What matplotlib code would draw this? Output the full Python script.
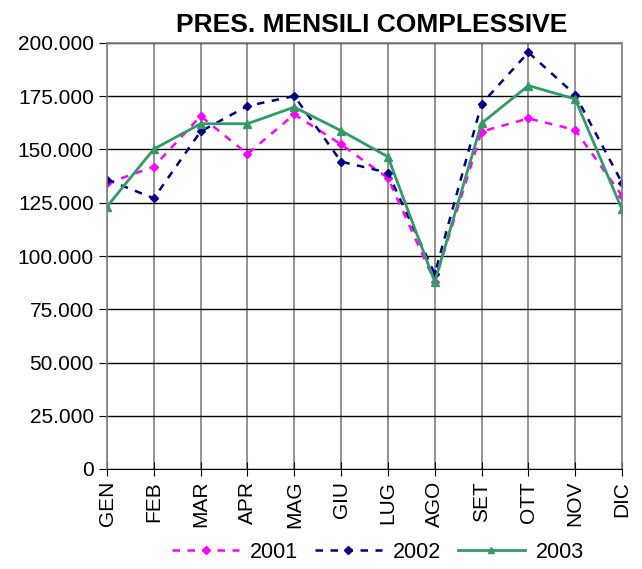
import numpy as np
import matplotlib.pyplot as plt
from matplotlib.ticker import FuncFormatter, MultipleLocator

plt.rcParams['font.family'] = ['Liberation Sans', 'DejaVu Sans']

mesi = ["GEN", "FEB", "MAR", "APR", "MAG", "GIU", "LUG", "AGO", "SET", "OTT", "NOV", "DIC"]

pres_2001 = [134100, 141900, 165700, 147900, 166500, 152400, 136600, 88000, 158400, 164600, 159200, 128300]
pres_2002 = [135800, 127100, 158500, 170400, 175100, 144300, 139100, 91600, 171400, 195600, 175700, 134400]
pres_2003 = [123200, 150200, 162100, 162100, 169900, 158800, 146600, 87900, 162300, 180000, 173700, 121900]

fig = plt.figure(figsize=(6.42, 5.69), dpi=100)
ax = fig.add_axes([107/642, 1 - 469/569, 515/642, 426/569])

x = np.arange(len(mesi))
ax.plot(x, pres_2001, color='#ff00ff', linestyle=(0, (3, 3)), linewidth=1.8,
        marker='D', markersize=4.5, label='2001')
ax.plot(x, pres_2002, color='#000080', linestyle=(0, (3, 3)), linewidth=1.8,
        marker='D', markersize=4.5, label='2002')
ax.plot(x, pres_2003, color='#339966', linestyle='-', linewidth=2,
        marker='^', markersize=5.5, label='2003')

ax.set_xlim(0, len(mesi) - 1)
ax.set_ylim(0, 200000)
ax.yaxis.set_major_locator(MultipleLocator(25000))
ax.yaxis.set_major_formatter(FuncFormatter(lambda v, p: "0" if v == 0 else f"{int(v):,}".replace(",", ".")))
ax.set_xticks(x)
ax.set_xticklabels(mesi, rotation=90, fontsize=15)
ax.tick_params(axis='y', labelsize=15, direction='out', length=6, color='black')
ax.tick_params(axis='x', direction='inout', length=10, color='black')

ax.yaxis.grid(True, color='black', linewidth=1)
ax.xaxis.grid(True, color='#808080', linewidth=1.2)
ax.set_axisbelow(True)
for s in ['top', 'right', 'left']:
    ax.spines[s].set_color('#808080')
    ax.spines[s].set_linewidth(1.2)
ax.spines['bottom'].set_color('black')

fig.text(372/642, 1 - 25/569, "PRES. MENSILI COMPLESSIVE", ha='center', va='center',
         fontsize=19, fontweight='bold')

fig.legend(loc='center', bbox_to_anchor=(378/642, 1 - 552/569), ncol=3, frameon=False,
           fontsize=15.5, handlelength=3.1, columnspacing=0.8, handletextpad=0.5,
           markerscale=0.8)

fig.savefig("out.png", dpi=100)
